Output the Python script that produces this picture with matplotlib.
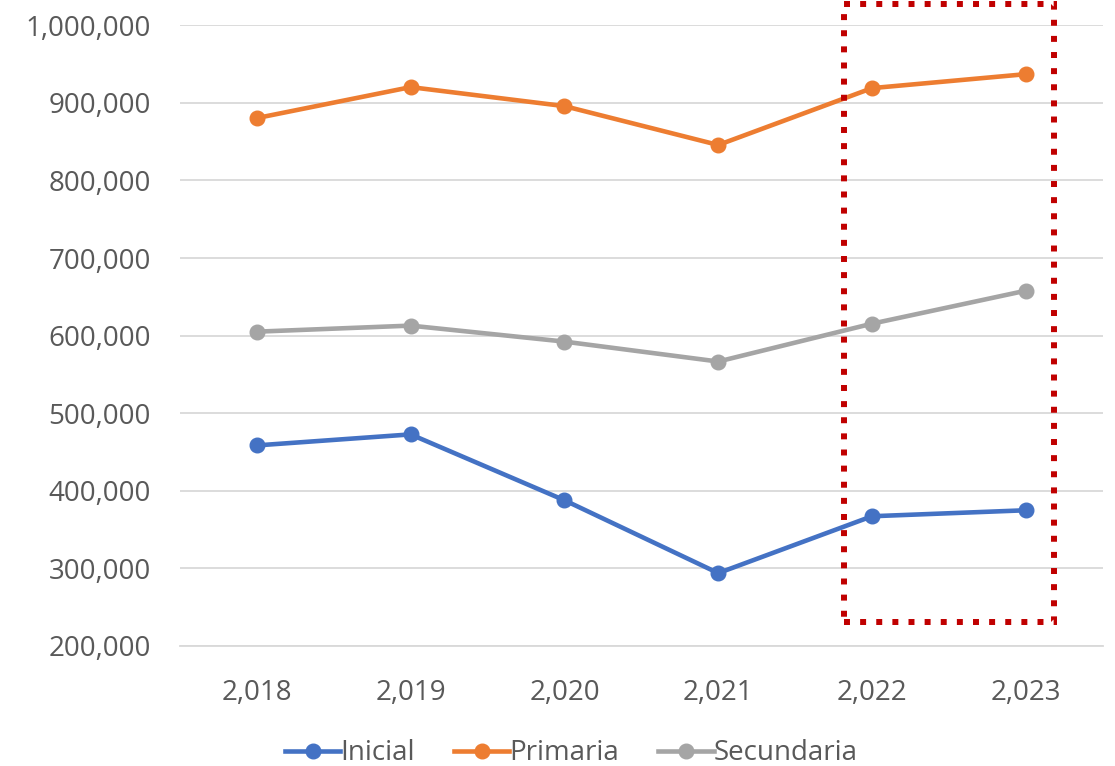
import matplotlib
matplotlib.use("Agg")
import matplotlib.pyplot as plt
from matplotlib.patches import Rectangle
from matplotlib.ticker import FuncFormatter

years = [2018, 2019, 2020, 2021, 2022, 2023]
inicial = [458500, 472700, 387800, 293900, 367200, 374900]
primaria = [880400, 920300, 895800, 845700, 919000, 937000]
secundaria = [605100, 612900, 592300, 566600, 615400, 657900]

plt.rcParams['font.family'] = ['Open Sans', 'DejaVu Sans']
txt = '#595959'

fig = plt.figure(figsize=(11.15, 7.66), dpi=100)
ax = fig.add_axes([0.1614, 0.1567, 0.989 - 0.1614, 0.967 - 0.1567])

x = list(range(len(years)))
for vals, col, name in [(inicial, '#4472C4', 'Inicial'),
                        (primaria, '#ED7D31', 'Primaria'),
                        (secundaria, '#A5A5A5', 'Secundaria')]:
    ax.plot(x, vals, color=col, lw=3.3, marker='o', ms=10.5, label=name, zorder=3)

ax.set_ylim(200000, 1000000)
ax.set_xlim(-0.5, len(years) - 0.5)
ax.set_yticks(range(200000, 1000001, 100000))
ax.yaxis.set_major_formatter(FuncFormatter(lambda v, p: f"{int(v):,}"))
ax.set_xticks(x)
ax.set_xticklabels([f"{y:,}" for y in years])
ax.grid(axis='y', color='#D9D9D9', lw=1.3)
ax.set_axisbelow(True)
for s in ax.spines.values():
    s.set_visible(False)
ax.spines['bottom'].set_visible(True)
ax.spines['bottom'].set_color('#D9D9D9')
ax.spines['bottom'].set_linewidth(1.3)
ax.tick_params(axis='both', length=0, labelsize=20, colors=txt)
ax.tick_params(axis='y', pad=21)
ax.tick_params(axis='x', pad=24)

rect = Rectangle((3.82, 231000), 1.36, 797000, fill=False, edgecolor='#C00000',
                 lw=4.3, linestyle=(0, (1, 1.7)), clip_on=False, zorder=4)
ax.add_patch(rect)

leg = ax.legend(loc='upper center', bbox_to_anchor=(0.424, -0.11), ncol=3, frameon=False,
                fontsize=20, handlelength=2.0, handletextpad=0.0, columnspacing=1.4,
                labelcolor=txt)

fig.savefig('out.png', dpi=100)
